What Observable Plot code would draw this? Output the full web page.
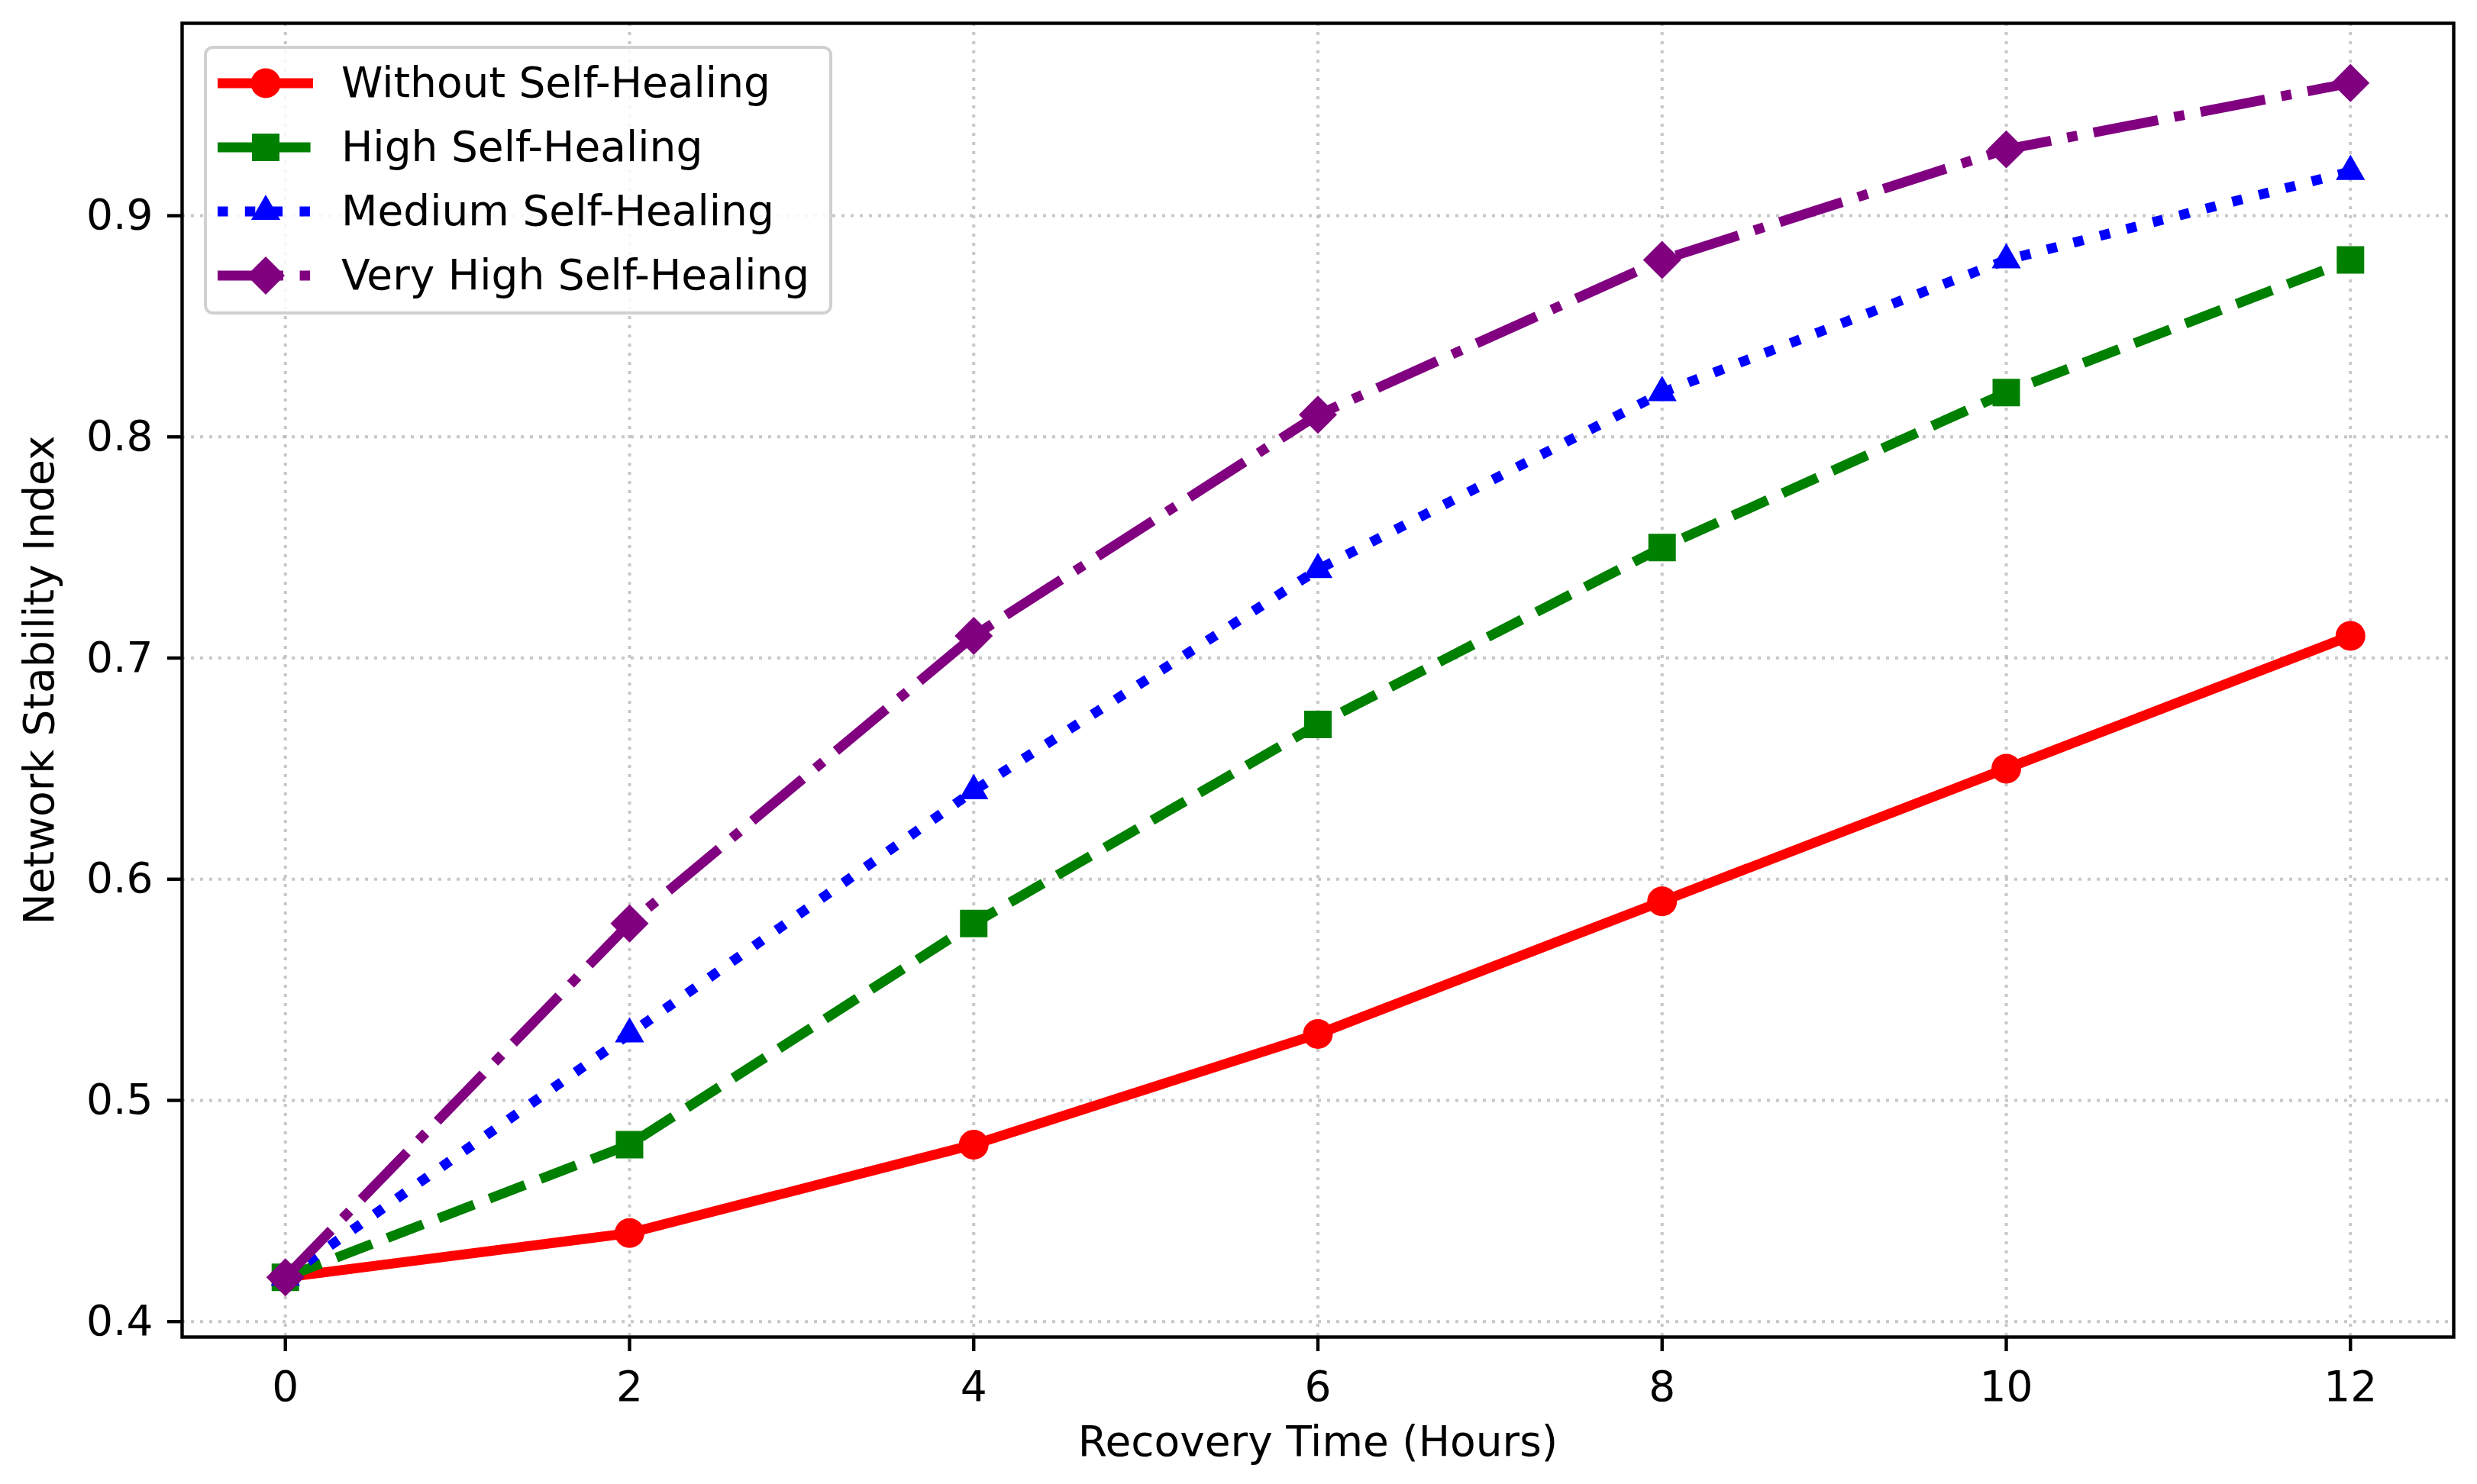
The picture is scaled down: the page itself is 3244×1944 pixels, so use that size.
<!DOCTYPE html>
<html><head><meta charset="utf-8">
<script src="https://cdn.jsdelivr.net/npm/d3@7"></script>
<script src="https://cdn.jsdelivr.net/npm/@observablehq/plot@0.6"></script>
<style>
html,body{margin:0;padding:0;background:#fff;}
#wrap{position:relative;width:3244px;height:1944px;font-family:"DejaVu Sans",sans-serif;}
#legend{position:absolute;left:267px;top:60px;width:823px;height:352px;box-sizing:border-box;border:4px solid #d0d0d0;border-radius:12px;background:rgba(255,255,255,0.85);}
.row{position:absolute;left:0;height:84px;}
.row svg{position:absolute;left:14px;top:0;}
.row span{position:absolute;left:176px;font-size:55px;white-space:nowrap;color:#000;line-height:1;}
</style></head><body><div id="wrap"><div id="plot"></div><div id="legend"></div></div>
<script>
const hours = [0, 2, 4, 6, 8, 10, 12];
const seriesNames = ["Without Self-Healing", "High Self-Healing", "Medium Self-Healing", "Very High Self-Healing"];
const withoutSH = [0.42, 0.44, 0.48, 0.53, 0.59, 0.65, 0.71];
const highSH = [0.42, 0.48, 0.58, 0.67, 0.75, 0.82, 0.88];
const mediumSH = [0.42, 0.53, 0.64, 0.74, 0.82, 0.88, 0.92];
const veryHighSH = [0.42, 0.58, 0.71, 0.81, 0.88, 0.93, 0.96];
const xTicks = [0, 2, 4, 6, 8, 10, 12];
const yTicks = [0.4, 0.5, 0.6, 0.7, 0.8, 0.9];
const xLabel = "Recovery Time (Hours)";
const yLabel = "Network Stability Index";

const seriesValues = [withoutSH, highSH, mediumSH, veryHighSH];
const colors = ["#ff0000", "#008000", "#0000ff", "#800080"];
const dashes = [null, "50 21.6", "13.5 22.3", "86 21.6 13.5 21.6"];
const symbols = ["circle", "square", "triangle", "diamond2"];
const radii = [19.5, 20.3, 14.2, 22.5];
const LW = 13;

const table = seriesNames.map((name, i) => hours.map((h, j) => ({series: name, hours: h, value: seriesValues[i][j]})));

const marks = [
  Plot.gridX(xTicks, {stroke: "#b0b0b0", strokeOpacity: 0.7, strokeWidth: 4, strokeDasharray: "4 8"}),
  Plot.gridY(yTicks, {stroke: "#b0b0b0", strokeOpacity: 0.7, strokeWidth: 4, strokeDasharray: "4 8"})
];
table.forEach((rows, i) => {
  marks.push(Plot.line(rows, {x: "hours", y: "value", stroke: colors[i], strokeWidth: LW, strokeDasharray: dashes[i], strokeLinecap: "butt", strokeLinejoin: "round"}));
  marks.push(Plot.dot(rows, {x: "hours", y: "value", fill: colors[i], stroke: "none", symbol: symbols[i], r: radii[i]}));
});
marks.push(
  Plot.frame({stroke: "black", strokeWidth: 4.4}),
  Plot.axisX(xTicks, {tickSize: 19, tickPadding: 25, strokeWidth: 4.4, label: null, tickFormat: d => String(d), fontSize: 55}),
  Plot.axisY(yTicks, {tickSize: 19, tickPadding: 19, strokeWidth: 4.4, label: null, tickFormat: d => d.toFixed(1), fontSize: 55}),
  Plot.text([xLabel], {text: d => d, frameAnchor: "bottom", dy: 138, lineAnchor: "middle", textAnchor: "middle", fontSize: 55, fill: "black"}),
  Plot.text([yLabel], {text: d => d, frameAnchor: "left", dx: -186, rotate: -90, lineAnchor: "middle", textAnchor: "middle", fontSize: 55, fill: "black"})
);

const chart = Plot.plot({
  width: 3244, height: 1944,
  marginLeft: 238, marginRight: 31, marginTop: 30, marginBottom: 193,
  style: {fontFamily: "DejaVu Sans", fontSize: "55px", background: "white", color: "black"},
  x: {domain: [-0.6, 12.6]},
  y: {domain: [0.393, 0.987]},
  marks
});
document.getElementById("plot").appendChild(chart);

// Legend
const legend = d3.select("#legend");
const rowTops = [3, 87, 171, 255];
const d3sym = {circle: d3.symbolCircle, square: d3.symbolSquare, triangle: d3.symbolTriangle, diamond2: d3.symbolDiamond2};
seriesNames.forEach((name, i) => {
  const row = legend.append("div").attr("class", "row").style("top", rowTops[i] + "px");
  const svg = row.append("svg").attr("width", 126).attr("height", 84);
  svg.append("line").attr("x1", 0).attr("x2", 125).attr("y1", 42).attr("y2", 42)
    .attr("stroke", colors[i]).attr("stroke-width", LW).attr("stroke-dasharray", dashes[i]).attr("stroke-linecap", "butt");
  svg.append("path").attr("transform", "translate(63,42)")
    .attr("d", d3.symbol(d3sym[symbols[i]], Math.PI * radii[i] * radii[i])())
    .attr("fill", colors[i]);
  row.append("span").text(name).style("top", "14px");
});
</script></body></html>
